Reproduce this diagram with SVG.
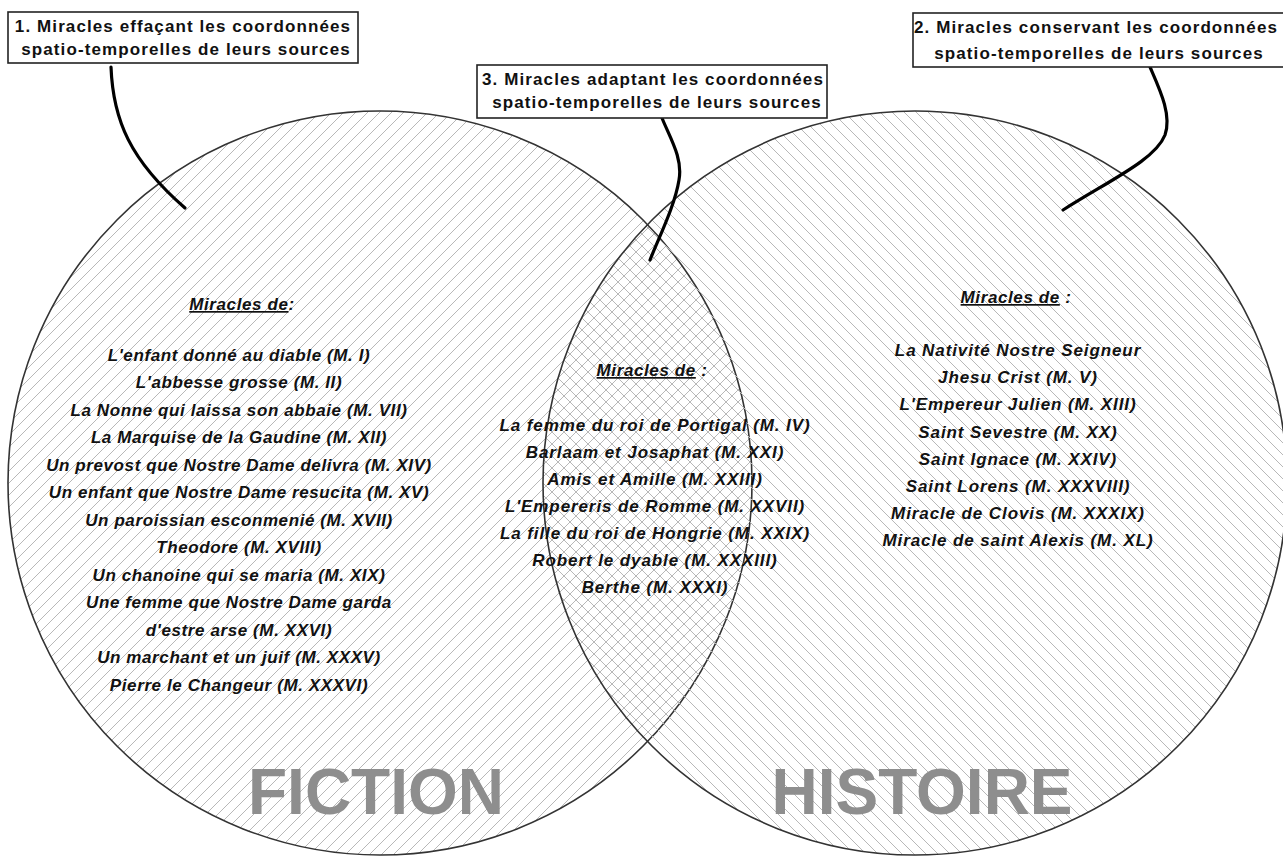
<svg xmlns="http://www.w3.org/2000/svg" width="1283" height="857" viewBox="0 0 1283 857">
<defs>
<pattern id="hatchUp" patternUnits="userSpaceOnUse" width="12" height="12">
<path d="M-1,13 L13,-1 M-2,2 L2,-2 M10,14 L14,10" stroke="#b8b8b8" stroke-width="1" fill="none"/>
</pattern>
<pattern id="hatchDown" patternUnits="userSpaceOnUse" width="12" height="12">
<path d="M-1,-1 L13,13 M-2,10 L2,14 M10,-2 L14,2" stroke="#b8b8b8" stroke-width="1" fill="none"/>
</pattern>
</defs>
<style>
.circle{stroke:#333;stroke-width:1.6}
.box{fill:#fff;stroke:#222;stroke-width:1.6}
.title{font-family:"Liberation Sans",Arial,sans-serif;font-weight:bold;font-size:17px;letter-spacing:1.1px;fill:#111;text-anchor:middle}
.item{font-family:"Liberation Sans",Arial,sans-serif;font-weight:bold;font-style:italic;font-size:17px;letter-spacing:0.6px;fill:#111;text-anchor:middle}
.wide{letter-spacing:0.9px}
.head{text-decoration:underline}
.big{font-family:"Liberation Sans",Arial,sans-serif;font-weight:bold;font-size:64px;fill:#8e8e8e;text-anchor:middle}
.conn{fill:none;stroke:#000;stroke-width:3.2;stroke-linecap:round}
</style>
<rect width="1283" height="857" fill="#fff"/>
<g id="fiction">
<circle class="circle" cx="380" cy="483" r="372" fill="url(#hatchUp)"/>
</g>
<g id="histoire">
<circle class="circle" cx="915" cy="483" r="372" fill="url(#hatchDown)"/>
</g>
<g id="fiction-text">
<text class="item" x="242" y="310"><tspan class="head">Miracles de</tspan>:</text>
<text class="item" x="239" y="361">L'enfant donné au diable (M. I)</text>
<text class="item" x="239" y="388">L'abbesse grosse (M. II)</text>
<text class="item" x="239" y="416">La Nonne qui laissa son abbaie (M. VII)</text>
<text class="item" x="239" y="443">La Marquise de la Gaudine (M. XII)</text>
<text class="item" x="239" y="471">Un prevost que Nostre Dame delivra (M. XIV)</text>
<text class="item" x="239" y="498">Un enfant que Nostre Dame resucita (M. XV)</text>
<text class="item" x="239" y="526">Un paroissian esconmenié (M. XVII)</text>
<text class="item" x="239" y="553">Theodore (M. XVIII)</text>
<text class="item" x="239" y="581">Un chanoine qui se maria (M. XIX)</text>
<text class="item" x="239" y="608">Une femme que Nostre Dame garda</text>
<text class="item" x="239" y="636">d'estre arse (M. XXVI)</text>
<text class="item" x="239" y="663">Un marchant et un juif (M. XXXV)</text>
<text class="item" x="239" y="691">Pierre le Changeur (M. XXXVI)</text>
<text class="big" x="376" y="814">FICTION</text>
</g>
<g id="intersection-text">
<text class="item" x="652" y="376"><tspan class="head">Miracles de</tspan> :</text>
<text class="item wide" x="655" y="431">La femme du roi de Portigal (M. IV)</text>
<text class="item wide" x="655" y="458">Barlaam et Josaphat (M. XXI)</text>
<text class="item wide" x="655" y="485">Amis et Amille (M. XXIII)</text>
<text class="item wide" x="655" y="512">L'Empereris de Romme (M. XXVII)</text>
<text class="item wide" x="655" y="539">La fille du roi de Hongrie (M. XXIX)</text>
<text class="item wide" x="655" y="566">Robert le dyable (M. XXXIII)</text>
<text class="item wide" x="655" y="593">Berthe (M. XXXI)</text>
</g>
<g id="histoire-text">
<text class="item" x="1016" y="303"><tspan class="head">Miracles de</tspan> :</text>
<text class="item wide" x="1018" y="356">La Nativité Nostre Seigneur</text>
<text class="item wide" x="1018" y="383">Jhesu Crist (M. V)</text>
<text class="item wide" x="1018" y="410">L'Empereur Julien (M. XIII)</text>
<text class="item wide" x="1018" y="438">Saint Sevestre (M. XX)</text>
<text class="item wide" x="1018" y="465">Saint Ignace (M. XXIV)</text>
<text class="item wide" x="1018" y="492">Saint Lorens (M. XXXVIII)</text>
<text class="item wide" x="1018" y="519">Miracle de Clovis (M. XXXIX)</text>
<text class="item wide" x="1018" y="546">Miracle de saint Alexis (M. XL)</text>
<text class="big" x="922" y="814">HISTOIRE</text>
</g>
<g id="connectors">
<path class="conn" d="M111,67 C113,120 130,160 185,208"/>
<path class="conn" d="M662,118 C670,138 683,158 679,180 C675,205 660,235 650,260"/>
<path class="conn" d="M1150,67 C1160,90 1172,115 1165,135 C1155,160 1110,180 1063,210"/>
</g>
<g id="box1">
<rect class="box" x="8" y="12" width="350" height="51"/>
<text class="title" x="183" y="32">1. Miracles effaçant les coordonnées</text>
<text class="title" x="186" y="55">spatio-temporelles de leurs sources</text>
</g>
<g id="box3">
<rect class="box" x="477" y="65" width="350" height="53"/>
<text class="title" x="653" y="85">3. Miracles adaptant les coordonnées</text>
<text class="title" x="657" y="108">spatio-temporelles de leurs sources</text>
</g>
<g id="box2">
<rect class="box" x="913" y="13" width="375" height="54"/>
<text class="title" x="1096" y="33">2. Miracles conservant les coordonnées</text>
<text class="title" x="1099" y="59">spatio-temporelles de leurs sources</text>
</g>
</svg>
